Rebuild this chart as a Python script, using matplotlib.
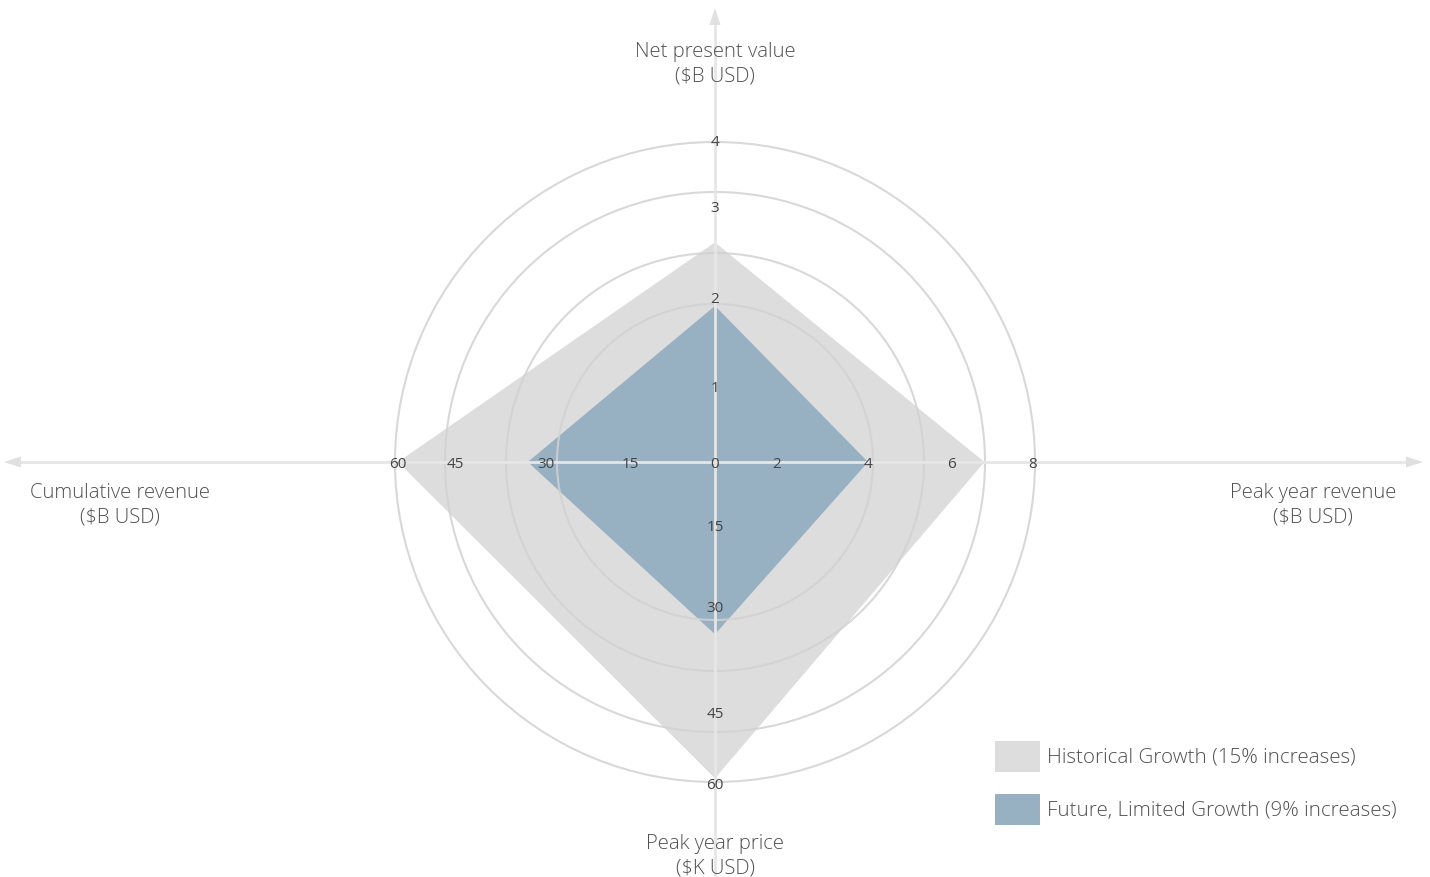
import numpy as np
import matplotlib
matplotlib.use("Agg")
import matplotlib.pyplot as plt
from matplotlib.patches import Circle, Polygon, Rectangle

plt.rcParams['font.family'] = ['Open Sans', 'DejaVu Sans']

# Axes of the radar, clockwise from the top
axis_names = ["Net present value\n($B USD)", "Peak year revenue\n($B USD)",
              "Peak year price\n($K USD)", "Cumulative revenue\n($B USD)"]

# Tick values per axis
npv_ticks = [0, 1, 2, 3, 4]
revenue_ticks = [0, 2, 4, 6, 8]
price_ticks = [0, 15, 30, 45, 60]
cumulative_ticks = [0, 15, 30, 45, 60]

# Series values (NPV, peak revenue, peak price, cumulative revenue)
series_names = ["Historical Growth (15% increases)",
                "Future, Limited Growth (9% increases)"]
historical = [2.6, 6.8, 59, 60]
future = [1.9, 4.0, 34, 33]

# ---- layout (pixels) ----
W, H = 1430, 878
cx, cy = 715, 463
# tick radii along each axis (per-axis piecewise scale)
tick_radii = [
    [0, 76, 165, 256, 322],
    [0, 62, 153, 237, 318],
    [0, 63, 144, 250, 321],
    [0, 85, 169, 260, 317],
]
directions = [(0, -1), (1, 0), (0, 1), (-1, 0)]
ring_radii = [158, 209, 270, 320]
all_ticks = [npv_ticks, revenue_ticks, price_ticks, cumulative_ticks]

GRAY_FILL = "#dddddd"
BLUE_FILL = "#97b0c2"
TEXT = "#505050"
TICK_TEXT = "#444444"


def scale(i, v):
    return np.interp(v, all_ticks[i], tick_radii[i])


def polygon_points(values):
    pts = []
    for i, v in enumerate(values):
        r = scale(i, v)
        dx, dy = directions[i]
        pts.append((cx + r * dx, cy + r * dy))
    return pts


fig = plt.figure(figsize=(W / 100, H / 100), dpi=100)
ax = fig.add_axes([0, 0, 1, 1])
ax.set_xlim(0, W)
ax.set_ylim(H, 0)
ax.axis("off")

# series areas
ax.add_patch(Polygon(polygon_points(historical), closed=True,
                     facecolor=GRAY_FILL, edgecolor="none", zorder=1))
ax.add_patch(Polygon(polygon_points(future), closed=True,
                     facecolor=BLUE_FILL, edgecolor="none", zorder=2))

# grid rings
for r in ring_radii:
    ax.add_patch(Circle((cx, cy), r, fill=False, edgecolor="#d2d2d2",
                        linewidth=1.5, alpha=0.85, zorder=3))

# axis lines with arrow heads
LINE = "#e6e6e6"
ax.plot([8, 1418], [cy, cy], color=LINE, lw=2, zorder=4, solid_capstyle="butt")
ax.plot([cx, cx], [14, H], color=LINE, lw=2, zorder=4, solid_capstyle="butt")
HEAD = "#e0e0e0"
ax.add_patch(Polygon([(4, cy), (21, cy - 5.5), (21, cy + 5.5)],
                     facecolor=HEAD, edgecolor="none", zorder=4))
ax.add_patch(Polygon([(1423, cy), (1406, cy - 5.5), (1406, cy + 5.5)],
                     facecolor=HEAD, edgecolor="none", zorder=4))
ax.add_patch(Polygon([(cx, 9), (cx - 5.5, 26), (cx + 5.5, 26)],
                     facecolor=HEAD, edgecolor="none", zorder=4))

# tick labels
TICK_FS = 11
ax.text(cx, cy + 1.5, "0", ha="center", va="center", fontsize=TICK_FS,
        color=TICK_TEXT, zorder=5)
for i, ticks in enumerate(all_ticks):
    dx, dy = directions[i]
    for t in ticks[1:]:
        r = scale(i, t)
        ax.text(cx + r * dx, cy + r * dy + 1.5, str(t), ha="center",
                va="center", fontsize=TICK_FS, color=TICK_TEXT, zorder=5)

# axis titles
title_pos = [(cx, 64), (1313, 505), (cx, 856), (120, 505)]
for name, (x, y) in zip(axis_names, title_pos):
    ax.text(x, y, name, ha="center", va="center", fontsize=14.6,
            color=TEXT, linespacing=1.33, fontweight="light", zorder=5)

# legend
for k, (name, col) in enumerate(zip(series_names, [GRAY_FILL, BLUE_FILL])):
    y0 = 742 + k * 53
    ax.add_patch(Rectangle((995, y0), 45, 31, facecolor=col,
                           edgecolor="none", zorder=5))
    ax.text(1047, y0 + 16, name, ha="left", va="center", fontsize=14.8,
            color=TEXT, fontweight="light", zorder=5)

fig.savefig("out.png", dpi=100)
